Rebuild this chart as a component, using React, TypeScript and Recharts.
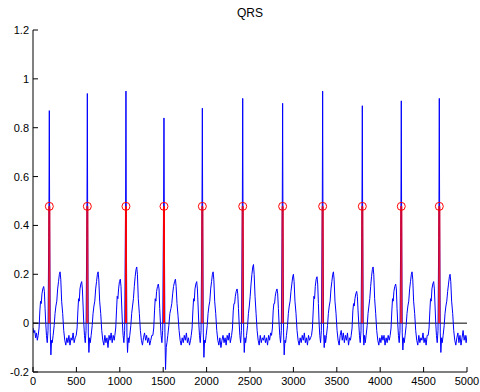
import { ComposedChart, Line, ReferenceLine, Scatter, XAxis, YAxis } from "recharts"

// ECG trace: [sample, amplitude]
const ecgSignal: [number, number][] = [
  [0, -0.02], [10, -0.04], [20, -0.03], [30, -0.06], [40, -0.04], [50, -0.07],
  // beat 1
  [60, -0.05], [70, -0.02], [79, 0.05], [87, 0.09], [95, 0.08], [103, 0.12], [113, 0.14], [123, 0.15], [131, 0.13], [139, 0.06], [147, 0.0], [155, -0.05], [164, -0.08], [173, -0.03], [181, 0.35], [184, 0.5], [188, 0.87], [192, 0.4], [199, -0.04], [206, -0.13], [214, -0.07], [222, -0.08], [232, -0.05], [244, -0.01], [254, 0.04], [264, 0.07], [274, 0.09], [284, 0.14], [294, 0.17], [304, 0.2], [312, 0.21], [320, 0.18], [330, 0.09], [342, 0.04], [354, -0.03], [366, -0.07], [378, -0.09],
  [390, -0.06], [402, -0.08], [414, -0.05], [426, -0.09], [438, -0.06], [450, -0.07], [462, -0.04], [474, -0.08], [486, -0.06],
  // beat 2
  [498, -0.05], [508, -0.02], [517, 0.05], [525, 0.1], [533, 0.09], [541, 0.14], [551, 0.16], [561, 0.17], [569, 0.14], [577, 0.07], [585, 0.0], [593, -0.05], [602, -0.08], [611, -0.03], [619, 0.35], [622, 0.5], [626, 0.94], [630, 0.4], [637, -0.04], [644, -0.12], [652, -0.06], [660, -0.08], [670, -0.05], [682, -0.01], [692, 0.04], [702, 0.07], [712, 0.09], [722, 0.14], [732, 0.17], [742, 0.2], [750, 0.21], [758, 0.18], [768, 0.09], [780, 0.04], [792, -0.03], [804, -0.07], [816, -0.09],
  [828, -0.05], [840, -0.08], [852, -0.06], [864, -0.1], [876, -0.05], [888, -0.07], [900, -0.04], [912, -0.08], [924, -0.05], [936, -0.07],
  // beat 3
  [943, -0.05], [953, -0.02], [962, 0.05], [970, 0.11], [978, 0.1], [986, 0.14], [996, 0.17], [1006, 0.18], [1014, 0.15], [1022, 0.07], [1030, 0.0], [1038, -0.05], [1047, -0.08], [1056, -0.03], [1064, 0.35], [1067, 0.5], [1071, 0.95], [1075, 0.4], [1082, -0.04], [1089, -0.12], [1097, -0.06], [1105, -0.08], [1115, -0.05], [1127, -0.01], [1137, 0.04], [1147, 0.07], [1157, 0.1], [1167, 0.15], [1177, 0.19], [1187, 0.22], [1195, 0.23], [1203, 0.2], [1213, 0.1], [1225, 0.04], [1237, -0.03], [1249, -0.07], [1261, -0.09],
  [1273, -0.06], [1285, -0.04], [1297, -0.07], [1309, -0.05], [1321, -0.08], [1333, -0.06], [1345, -0.09], [1357, -0.07], [1369, -0.05],
  // beat 4
  [1381, -0.05], [1391, -0.02], [1400, 0.05], [1408, 0.1], [1416, 0.09], [1424, 0.13], [1434, 0.15], [1444, 0.16], [1452, 0.14], [1460, 0.06], [1468, 0.0], [1476, -0.05], [1485, -0.08], [1494, -0.03], [1502, 0.35], [1505, 0.5], [1509, 0.84], [1513, 0.4], [1520, -0.04], [1527, -0.19], [1535, -0.1], [1543, -0.08], [1553, -0.05], [1565, -0.01], [1577, 0.04], [1589, 0.06], [1599, 0.08], [1609, 0.12], [1619, 0.15], [1631, 0.17], [1641, 0.18], [1649, 0.15], [1659, 0.08], [1671, 0.03], [1683, -0.03], [1695, -0.07], [1707, -0.09],
  [1719, -0.06], [1731, -0.08], [1743, -0.05], [1755, -0.07], [1767, -0.04], [1779, -0.08], [1791, -0.06], [1803, -0.09], [1815, -0.07],
  // beat 5
  [1823, -0.05], [1833, -0.02], [1842, 0.05], [1850, 0.1], [1858, 0.09], [1866, 0.14], [1876, 0.16], [1886, 0.17], [1894, 0.14], [1902, 0.07], [1910, 0.0], [1918, -0.05], [1927, -0.08], [1936, -0.03], [1944, 0.35], [1947, 0.5], [1951, 0.88], [1955, 0.4], [1962, -0.04], [1969, -0.14], [1977, -0.07], [1985, -0.08], [1995, -0.05], [2007, -0.01], [2017, 0.04], [2027, 0.07], [2037, 0.09], [2047, 0.14], [2057, 0.17], [2067, 0.2], [2075, 0.21], [2083, 0.18], [2093, 0.09], [2105, 0.04], [2117, -0.03], [2129, -0.07], [2141, -0.09],
  [2153, -0.06], [2165, -0.1], [2177, -0.07], [2189, -0.05], [2201, -0.08], [2213, -0.06], [2225, -0.09], [2237, -0.05], [2249, -0.07], [2261, -0.04], [2273, -0.08],
  // beat 6
  [2288, -0.05], [2298, -0.02], [2307, 0.05], [2315, 0.08], [2323, 0.08], [2331, 0.11], [2341, 0.13], [2351, 0.14], [2359, 0.12], [2367, 0.06], [2375, 0.0], [2383, -0.05], [2392, -0.08], [2401, -0.03], [2409, 0.35], [2412, 0.5], [2416, 0.92], [2420, 0.4], [2427, -0.04], [2434, -0.12], [2442, -0.06], [2450, -0.08], [2460, -0.05], [2472, -0.01], [2482, 0.04], [2492, 0.07], [2502, 0.11], [2512, 0.16], [2522, 0.2], [2532, 0.23], [2540, 0.24], [2548, 0.2], [2558, 0.11], [2570, 0.04], [2582, -0.03], [2594, -0.07], [2606, -0.09],
  [2618, -0.05], [2630, -0.08], [2642, -0.06], [2654, -0.07], [2666, -0.05], [2678, -0.08], [2690, -0.06], [2702, -0.09], [2714, -0.05], [2726, -0.07], [2738, -0.04],
  // beat 7
  [2748, -0.05], [2758, -0.02], [2767, 0.05], [2775, 0.08], [2783, 0.08], [2791, 0.11], [2801, 0.13], [2811, 0.14], [2819, 0.12], [2827, 0.06], [2835, 0.0], [2843, -0.05], [2852, -0.08], [2861, -0.03], [2869, 0.35], [2872, 0.5], [2876, 0.9], [2880, 0.4], [2887, -0.04], [2894, -0.13], [2902, -0.07], [2910, -0.08], [2920, -0.05], [2932, -0.01], [2942, 0.04], [2952, 0.07], [2962, 0.09], [2972, 0.13], [2982, 0.16], [2992, 0.19], [3000, 0.2], [3008, 0.17], [3018, 0.09], [3030, 0.04], [3042, -0.03], [3054, -0.07], [3066, -0.09],
  [3078, -0.06], [3090, -0.08], [3102, -0.05], [3114, -0.07], [3126, -0.04], [3138, -0.08], [3150, -0.06], [3162, -0.09], [3174, -0.05], [3186, -0.07], [3198, -0.06],
  // beat 8
  [3209, -0.05], [3219, -0.02], [3228, 0.05], [3236, 0.11], [3244, 0.1], [3252, 0.15], [3262, 0.18], [3272, 0.19], [3280, 0.16], [3288, 0.08], [3296, 0.0], [3304, -0.05], [3313, -0.08], [3322, -0.03], [3330, 0.35], [3333, 0.5], [3337, 0.95], [3341, 0.4], [3348, -0.04], [3355, -0.1], [3363, -0.05], [3371, -0.08], [3381, -0.05], [3393, -0.01], [3403, 0.04], [3413, 0.07], [3423, 0.09], [3433, 0.14], [3443, 0.17], [3453, 0.2], [3461, 0.21], [3469, 0.18], [3479, 0.09], [3491, 0.04], [3503, -0.03], [3515, -0.07], [3527, -0.09],
  [3539, -0.05], [3551, -0.03], [3563, -0.07], [3575, -0.04], [3587, -0.08], [3599, -0.05], [3611, -0.07], [3623, -0.04], [3635, -0.09], [3647, -0.06], [3657, -0.07],
  // beat 9
  [3666, -0.05], [3676, -0.02], [3685, 0.05], [3693, 0.08], [3701, 0.07], [3709, 0.1], [3719, 0.12], [3729, 0.13], [3737, 0.11], [3745, 0.05], [3753, 0.0], [3761, -0.05], [3770, -0.08], [3779, -0.03], [3787, 0.35], [3790, 0.5], [3794, 0.89], [3798, 0.4], [3805, -0.04], [3812, -0.09], [3820, -0.05], [3828, -0.08], [3838, -0.05], [3850, -0.01], [3860, 0.04], [3870, 0.07], [3880, 0.1], [3890, 0.15], [3900, 0.19], [3910, 0.22], [3918, 0.23], [3926, 0.2], [3936, 0.1], [3948, 0.04], [3960, -0.03], [3972, -0.07], [3984, -0.09],
  [3996, -0.06], [4008, -0.08], [4020, -0.05], [4032, -0.07], [4044, -0.05], [4056, -0.09], [4068, -0.06], [4080, -0.08], [4092, -0.05], [4104, -0.07],
  // beat 10
  [4115, -0.05], [4125, -0.02], [4134, 0.05], [4142, 0.1], [4150, 0.09], [4158, 0.13], [4168, 0.15], [4178, 0.16], [4186, 0.14], [4194, 0.06], [4202, 0.0], [4210, -0.05], [4219, -0.08], [4228, -0.03], [4236, 0.35], [4239, 0.5], [4243, 0.91], [4247, 0.4], [4254, -0.04], [4261, -0.11], [4269, -0.06], [4277, -0.08], [4287, -0.05], [4299, -0.01], [4309, 0.04], [4319, 0.07], [4329, 0.09], [4339, 0.14], [4349, 0.17], [4359, 0.2], [4367, 0.21], [4375, 0.18], [4385, 0.09], [4397, 0.04], [4409, -0.03], [4421, -0.07], [4433, -0.09],
  [4445, -0.05], [4457, -0.08], [4469, -0.06], [4481, -0.07], [4493, -0.04], [4505, -0.08], [4517, -0.06], [4529, -0.09], [4541, -0.05],
  // beat 11
  [4553, -0.05], [4563, -0.02], [4572, 0.05], [4580, 0.1], [4588, 0.09], [4596, 0.14], [4606, 0.16], [4616, 0.17], [4624, 0.14], [4632, 0.07], [4640, 0.0], [4648, -0.05], [4657, -0.08], [4666, -0.03], [4674, 0.35], [4677, 0.5], [4681, 0.92], [4685, 0.4], [4692, -0.04], [4699, -0.12], [4707, -0.06], [4715, -0.08], [4725, -0.05], [4737, -0.01], [4747, 0.04], [4757, 0.07], [4767, 0.09], [4777, 0.13], [4787, 0.16], [4797, 0.19], [4805, 0.2], [4813, 0.17], [4823, 0.09], [4835, 0.04], [4847, -0.03], [4859, -0.07], [4871, -0.09],
  [4883, -0.06], [4895, -0.04], [4907, -0.08], [4919, -0.05], [4931, -0.09], [4943, -0.06], [4955, -0.03], [4967, -0.07], [4979, -0.05], [4990, -0.08], [5000, -0.05],
]

// detected QRS locations and the marker level
const qrsSamples = [188, 626, 1071, 1509, 1951, 2416, 2876, 3337, 3794, 4243, 4681]
const qrsLevel = 0.478

const xTicks = [0, 500, 1000, 1500, 2000, 2500, 3000, 3500, 4000, 4500, 5000]
const yTicks = [-0.2, 0, 0.2, 0.4, 0.6, 0.8, 1, 1.2]

const FONT = "'Liberation Sans', Arial, Helvetica, sans-serif"
const TICK_LEN = 5
const LABEL_GAP = 4

const ecgData = ecgSignal.map(([x, y]) => ({ x, y }))
// narrow red pulse at every QRS
const pulseData = qrsSamples.flatMap((s) => [
  { x: s - 6, y: 0 },
  { x: s - 6, y: qrsLevel },
  { x: s + 6, y: qrsLevel },
  { x: s + 6, y: 0 },
  { x: s + 6, y: null },
])
const markerData = qrsSamples.map((s) => ({ x: s, y: qrsLevel }))

function BottomTick({ x, y, payload }: any) {
  const axisY = y - LABEL_GAP
  return (
    <g>
      <line x1={x} x2={x} y1={axisY} y2={axisY - TICK_LEN} stroke="#000" />
      <text x={x} y={y + 9} textAnchor="middle" fontSize={11} fontFamily={FONT} fill="#000">
        {payload.value}
      </text>
    </g>
  )
}

function LeftTick({ x, y, payload }: any) {
  const axisX = x + LABEL_GAP
  return (
    <g>
      <line x1={axisX} x2={axisX + TICK_LEN} y1={y} y2={y} stroke="#000" />
      <text x={x} y={y + 4} textAnchor="end" fontSize={11} fontFamily={FONT} fill="#000">
        {payload.value}
      </text>
    </g>
  )
}

function TopTick({ x, y }: any) {
  return <line x1={x} x2={x} y1={y} y2={y + TICK_LEN} stroke="#000" />
}

function RightTick({ x, y }: any) {
  return <line x1={x} x2={x - TICK_LEN} y1={y} y2={y} stroke="#000" />
}

export default function App() {
  return (
    <div style={{ position: "absolute", left: 0, top: 0, width: 480, height: 392, background: "#fff" }}>
      <div
        style={{
          position: "absolute",
          top: 6,
          left: 33,
          width: 434,
          textAlign: "center",
          fontFamily: FONT,
          fontSize: 12,
          color: "#000",
        }}
      >
        QRS
      </div>
      <ComposedChart width={480} height={392} margin={{ top: 30, right: 13, bottom: 0, left: 0 }}>
        <XAxis
          type="number"
          dataKey="x"
          domain={[0, 5000]}
          ticks={xTicks}
          interval={0}
          height={20}
          tickSize={0}
          tickMargin={LABEL_GAP}
          tick={<BottomTick />}
          tickLine={false}
          axisLine={{ stroke: "#000" }}
          allowDataOverflow
        />
        <XAxis
          xAxisId="top"
          orientation="top"
          type="number"
          dataKey="x"
          domain={[0, 5000]}
          ticks={xTicks}
          interval={0}
          height={0}
          tickSize={0}
          tickMargin={0}
          tick={<TopTick />}
          tickLine={false}
          axisLine={{ stroke: "#000" }}
          allowDataOverflow
        />
        <YAxis
          type="number"
          domain={[-0.2, 1.2]}
          ticks={yTicks}
          interval={0}
          width={33}
          tickSize={0}
          tickMargin={LABEL_GAP}
          tick={<LeftTick />}
          tickLine={false}
          axisLine={{ stroke: "#000" }}
          allowDataOverflow
        />
        <YAxis
          yAxisId="right"
          orientation="right"
          type="number"
          domain={[-0.2, 1.2]}
          ticks={yTicks}
          interval={0}
          width={0}
          tickSize={0}
          tickMargin={0}
          tick={<RightTick />}
          tickLine={false}
          axisLine={{ stroke: "#000" }}
          allowDataOverflow
        />
        <ReferenceLine y={0} stroke="#000" strokeWidth={1} />
        <Line
          data={ecgData}
          dataKey="y"
          type="linear"
          stroke="#0000ff"
          strokeWidth={1}
          dot={false}
          activeDot={false}
          isAnimationActive={false}
        />
        <Line
          data={pulseData}
          dataKey="y"
          type="linear"
          stroke="#ff0000"
          strokeWidth={1}
          dot={false}
          activeDot={false}
          connectNulls={false}
          isAnimationActive={false}
        />
        <Scatter
          data={markerData}
          dataKey="y"
          isAnimationActive={false}
          shape={(p: any) => <circle cx={p.cx} cy={p.cy} r={4} fill="none" stroke="#ff0000" strokeWidth={1} />}
        />
      </ComposedChart>
    </div>
  )
}
